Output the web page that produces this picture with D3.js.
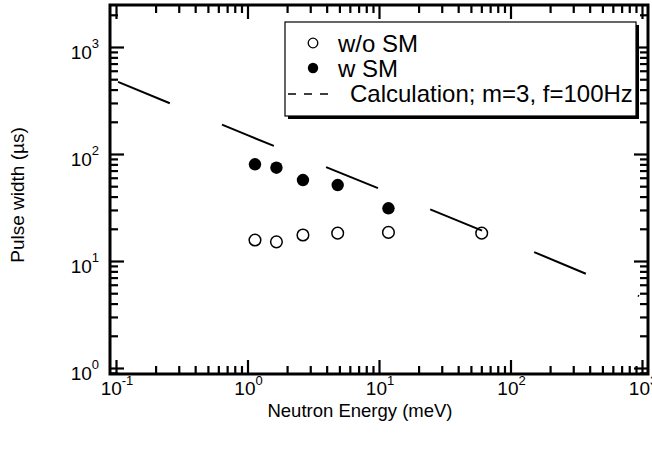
<!DOCTYPE html>
<html>
<head>
<meta charset="utf-8">
<script src="https://cdn.jsdelivr.net/npm/d3@7"></script>
<style>
  body { margin: 0; background: #fff; }
  svg { display: block; font-family: "Liberation Sans", Arial, Helvetica, sans-serif; }
</style>
</head>
<body>
<svg id="chart" width="652" height="451"></svg>
<script>
// values
const energyWoSM = [1.14, 1.66, 2.64, 4.85, 11.8, 60.4];
const widthWoSM = [15.7, 15.1, 17.5, 18.2, 18.5, 18.2];
const energyWSM = [1.14, 1.66, 2.64, 4.85, 11.8];
const widthWSM = [80.1, 74.5, 57.1, 51.3, 31.1];
const calcEnergy = [0.1, 1, 10, 100, 950];
const calcWidth = [480, 150, 47.5, 15, 4.7];

const xTickExp = ['-1', '0', '1', '2', '3'];
const yTickExp = ['0', '1', '2', '3'];
const legendLabels = ['w/o SM', 'w SM', 'Calculation; m=3, f=100Hz'];

const svg = d3.select('#chart');
const frame = { left: 110, right: 648, top: 5, bottom: 374 };

// decade positions, then extend to the frame edges
const xDec = d3.scaleLog().domain([0.1, 1000]).range([116, 642]);
const yDec = d3.scaleLog().domain([1, 1000]).range([368, 47]);
const x = d3.scaleLog()
    .domain([xDec.invert(frame.left), xDec.invert(frame.right)])
    .range([frame.left, frame.right]);
const y = d3.scaleLog()
    .domain([yDec.invert(frame.bottom), yDec.invert(frame.top)])
    .range([frame.bottom, frame.top]);

const isDecade = (d) => Math.abs(Math.log10(d) - Math.round(Math.log10(d))) < 1e-6;

function drawTicks(axisFn, scale, transform) {
    const all = scale.ticks();
    [[all.filter(isDecade), 14], [all.filter((d) => !isDecade(d)), 8]].forEach(([vals, len]) => {
        const g = svg.append('g')
            .attr('transform', transform)
            .call(axisFn(scale).tickValues(vals).tickSize(-len).tickFormat(''));
        g.select('.domain').remove();
        g.selectAll('.tick line').attr('stroke', '#000').attr('stroke-width', 2.2);
    });
}

drawTicks(d3.axisBottom, x, `translate(0,${frame.bottom})`);
drawTicks(d3.axisTop, x, `translate(0,${frame.top})`);
drawTicks(d3.axisLeft, y, `translate(${frame.left},0)`);
drawTicks(d3.axisRight, y, `translate(${frame.right},0)`);

svg.append('rect')
    .attr('x', frame.left)
    .attr('y', frame.top)
    .attr('width', frame.right - frame.left)
    .attr('height', frame.bottom - frame.top)
    .attr('fill', 'none')
    .attr('stroke', '#000')
    .attr('stroke-width', 3);

// tick labels 10^n
const xMajor = x.ticks().filter(isDecade);
xMajor.forEach((d, i) => {
    const t = svg.append('text')
        .attr('x', x(d) + 1)
        .attr('y', 395)
        .attr('text-anchor', 'middle')
        .attr('font-size', 19);
    t.append('tspan').text('10');
    t.append('tspan').attr('dy', -10).attr('font-size', 13).text(xTickExp[i]);
});

const yMajor = y.ticks().filter(isDecade);
yMajor.forEach((d, i) => {
    const t = svg.append('text')
        .attr('x', 99)
        .attr('y', y(d) + 12)
        .attr('text-anchor', 'end')
        .attr('font-size', 19);
    t.append('tspan').text('10');
    t.append('tspan').attr('dy', -11).attr('font-size', 13).text(yTickExp[i]);
});

svg.append('text')
    .attr('x', 360)
    .attr('y', 417)
    .attr('text-anchor', 'middle')
    .attr('font-size', 18.5)
    .text('Neutron Energy (meV)');

svg.append('text')
    .attr('transform', 'translate(24,195) rotate(-90)')
    .attr('text-anchor', 'middle')
    .attr('font-size', 19)
    .text('Pulse width (\u00b5s)');

// calculation line
const calc = calcEnergy.map((e, i) => [e, calcWidth[i]]);
svg.append('path')
    .datum(calc)
    .attr('d', d3.line().x((d) => x(d[0])).y((d) => y(d[1])))
    .attr('fill', 'none')
    .attr('stroke', '#000')
    .attr('stroke-width', 2)
    .attr('stroke-dasharray', '56 56.4')
    .attr('stroke-dashoffset', -2.2);

svg.append('g').selectAll('circle')
    .data(energyWSM.map((e, i) => [e, widthWSM[i]]))
    .join('circle')
    .attr('cx', (d) => x(d[0]))
    .attr('cy', (d) => y(d[1]))
    .attr('r', 6.2)
    .attr('fill', '#000');

svg.append('g').selectAll('circle')
    .data(energyWoSM.map((e, i) => [e, widthWoSM[i]]))
    .join('circle')
    .attr('cx', (d) => x(d[0]))
    .attr('cy', (d) => y(d[1]))
    .attr('r', 5.8)
    .attr('fill', 'none')
    .attr('stroke', '#000')
    .attr('stroke-width', 1.5);

// legend with drop shadow
const lg = svg.append('g');
lg.append('rect').attr('x', 288).attr('y', 25).attr('width', 351).attr('height', 94).attr('fill', '#000');
lg.append('rect').attr('x', 285).attr('y', 22).attr('width', 351).attr('height', 94)
    .attr('fill', '#fff').attr('stroke', '#000').attr('stroke-width', 1.2);

lg.append('circle').attr('cx', 313).attr('cy', 43).attr('r', 4.8)
    .attr('fill', '#fff').attr('stroke', '#000').attr('stroke-width', 1.3);
lg.append('circle').attr('cx', 313).attr('cy', 68).attr('r', 5.2).attr('fill', '#000');
lg.append('line').attr('x1', 288).attr('x2', 328).attr('y1', 94).attr('y2', 94)
    .attr('stroke', '#000').attr('stroke-width', 1.6).attr('stroke-dasharray', '8 8');

const legendPos = [[338, 51.5], [338, 76.5], [350, 102]];
legendLabels.forEach((s, i) => {
    lg.append('text')
        .attr('x', legendPos[i][0])
        .attr('y', legendPos[i][1])
        .attr('font-size', 24)
        .text(s);
});
</script>
</body>
</html>
